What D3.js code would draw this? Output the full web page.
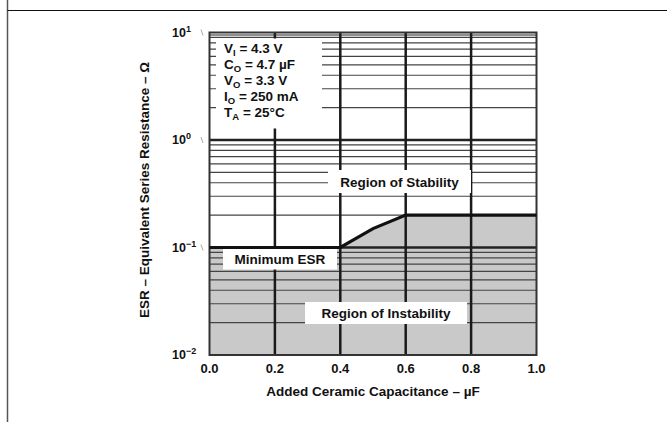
<!DOCTYPE html>
<html>
<head>
<meta charset="utf-8">
<script src="https://cdn.jsdelivr.net/npm/d3@7"></script>
<style>
  body { margin: 0; background: #fff; }
  text { font-family: "Liberation Sans", Arial, sans-serif; font-weight: bold; fill: #111; }
</style>
</head>
<body>
<div id="chart"></div>
<script>
const W = 667, H = 422;

// data
const capTicks = [0.0, 0.2, 0.4, 0.6, 0.8, 1.0];
const esrDecades = [0.01, 0.1, 1, 10];
const decadeExp = [-2, -1, 0, 1];
const minEsrCap = [0.0, 0.4, 0.5, 0.6, 1.0];
const minEsrVal = [0.1, 0.1, 0.15, 0.2, 0.2];
// condition lines: [main, subscript, rest]
const conditions = [
  ["V", "I", " = 4.3 V"],
  ["C", "O", " = 4.7 \u00b5F"],
  ["V", "O", " = 3.3 V"],
  ["I", "O", " = 250 mA"],
  ["T", "A", " = 25\u00b0C"]
];

const svg = d3.select("#chart").append("svg")
    .attr("width", W)
    .attr("height", H);

// page frame lines
svg.append("line").attr("x1", 7.5).attr("x2", 7.5).attr("y1", 0).attr("y2", H)
    .style("stroke", "#555").style("stroke-width", 1.5);
svg.append("line").attr("x1", 7.5).attr("x2", W).attr("y1", 10.5).attr("y2", 10.5)
    .style("stroke", "#111").style("stroke-width", 1.2);

const x = d3.scaleLinear().domain([0, 1]).range([209.5, 536.5]);
const y = d3.scaleLog().domain([0.01, 10]).range([355, 32.5]);

// shaded instability region
const area = d3.area()
    .x((d, i) => x(minEsrCap[i]))
    .y0(y(0.01))
    .y1((d, i) => y(minEsrVal[i]));
svg.append("path")
    .datum(minEsrCap)
    .attr("d", area)
    .style("fill", "#c9c9c9");

// minor horizontal grid
let minors = [];
esrDecades.slice(0, 3).forEach(function(dec) {
    for (let k = 2; k <= 9; k++) minors.push(dec * k);
});
svg.append("g").selectAll("line")
    .data(minors)
    .enter().append("line")
    .attr("x1", x(0)).attr("x2", x(1))
    .attr("y1", d => y(d)).attr("y2", d => y(d))
    .style("stroke", "#444")
    .style("stroke-width", 1.1);

// decade lines (heavy)
svg.append("g").selectAll("line")
    .data(esrDecades.slice(1, 3))
    .enter().append("line")
    .attr("x1", x(0)).attr("x2", x(1))
    .attr("y1", d => y(d)).attr("y2", d => y(d))
    .style("stroke", "#222")
    .style("stroke-width", 2.5);

// vertical grid
svg.append("g").selectAll("line")
    .data(capTicks.slice(1, 5))
    .enter().append("line")
    .attr("x1", d => x(d)).attr("x2", d => x(d))
    .attr("y1", y(10)).attr("y2", y(0.01))
    .style("stroke", "#1a1a1a")
    .style("stroke-width", 2.5);

// top double line
svg.append("line").attr("x1", x(0)).attr("x2", x(1))
    .attr("y1", y(10) + 2.5).attr("y2", y(10) + 2.5)
    .style("stroke", "#222").style("stroke-width", 1.2);

// plot frame
svg.append("rect")
    .attr("x", x(0)).attr("y", y(10))
    .attr("width", x(1) - x(0)).attr("height", y(0.01) - y(10))
    .style("fill", "none")
    .style("stroke", "#333")
    .style("stroke-width", 2);

// conditions box
svg.append("rect")
    .attr("x", 216).attr("y", 38.5)
    .attr("width", 106).attr("height", 90)
    .style("fill", "#fff");
let cond = svg.append("g");
conditions.forEach(function(c, i) {
    let t = cond.append("text")
        .attr("x", 224)
        .attr("y", 53 + i * 16)
        .style("font-size", "13.5px");
    t.append("tspan").text(c[0]);
    t.append("tspan").attr("dy", 3).style("font-size", "9.5px").text(c[1]);
    t.append("tspan").attr("dy", -3).text(c[2]);
});

// label boxes
const labelBox = function(cx, cy, w, h, txt) {
    svg.append("rect")
        .attr("x", cx - w / 2).attr("y", cy - h / 2)
        .attr("width", w).attr("height", h)
        .style("fill", "#fff");
    svg.append("text")
        .attr("x", cx).attr("y", cy + 5)
        .style("text-anchor", "middle")
        .style("font-size", "13.5px")
        .text(txt);
};
labelBox(399.5, 181.5, 143, 23, "Region of Stability");
labelBox(280, 259, 114, 21, "Minimum ESR");
labelBox(386, 313, 162, 22, "Region of Instability");

// minimum ESR curve
const line = d3.line()
    .x((d, i) => x(minEsrCap[i]))
    .y((d, i) => y(minEsrVal[i]));
svg.append("path")
    .datum(minEsrCap)
    .attr("d", line)
    .style("fill", "none")
    .style("stroke", "#111")
    .style("stroke-width", 3.2);

// y tick labels
decadeExp.forEach(function(e, i) {
    let ty = y(esrDecades[i]);
    svg.append("text")
        .attr("x", 186)
        .attr("y", ty + 4)
        .style("text-anchor", "end")
        .style("font-size", "12.5px")
        .text("10");
    svg.append("text")
        .attr("x", 186)
        .attr("y", ty - 1)
        .style("font-size", "9px")
        .text(e < 0 ? "\u2212" + Math.abs(e) : e);
    if (e > -2) {
        svg.append("line")
            .attr("x1", 201).attr("x2", 203)
            .attr("y1", ty - 3).attr("y2", ty + 3)
            .style("stroke", "#aaa").style("stroke-width", 1);
    }
});

// x tick labels
svg.append("g").selectAll("text")
    .data(capTicks)
    .enter().append("text")
    .attr("x", d => x(d))
    .attr("y", 373)
    .style("text-anchor", "middle")
    .style("font-size", "13px")
    .text(d => d.toFixed(1));

// axis titles
svg.append("text")
    .attr("x", 373).attr("y", 396)
    .style("text-anchor", "middle")
    .style("font-size", "13.5px")
    .text("Added Ceramic Capacitance \u2013 \u00b5F");

svg.append("text")
    .attr("transform", "translate(149,190) rotate(-90)")
    .style("text-anchor", "middle")
    .style("font-size", "13.5px")
    .text("ESR \u2013 Equivalent Series Resistance \u2013 \u03a9");
</script>
</body>
</html>
